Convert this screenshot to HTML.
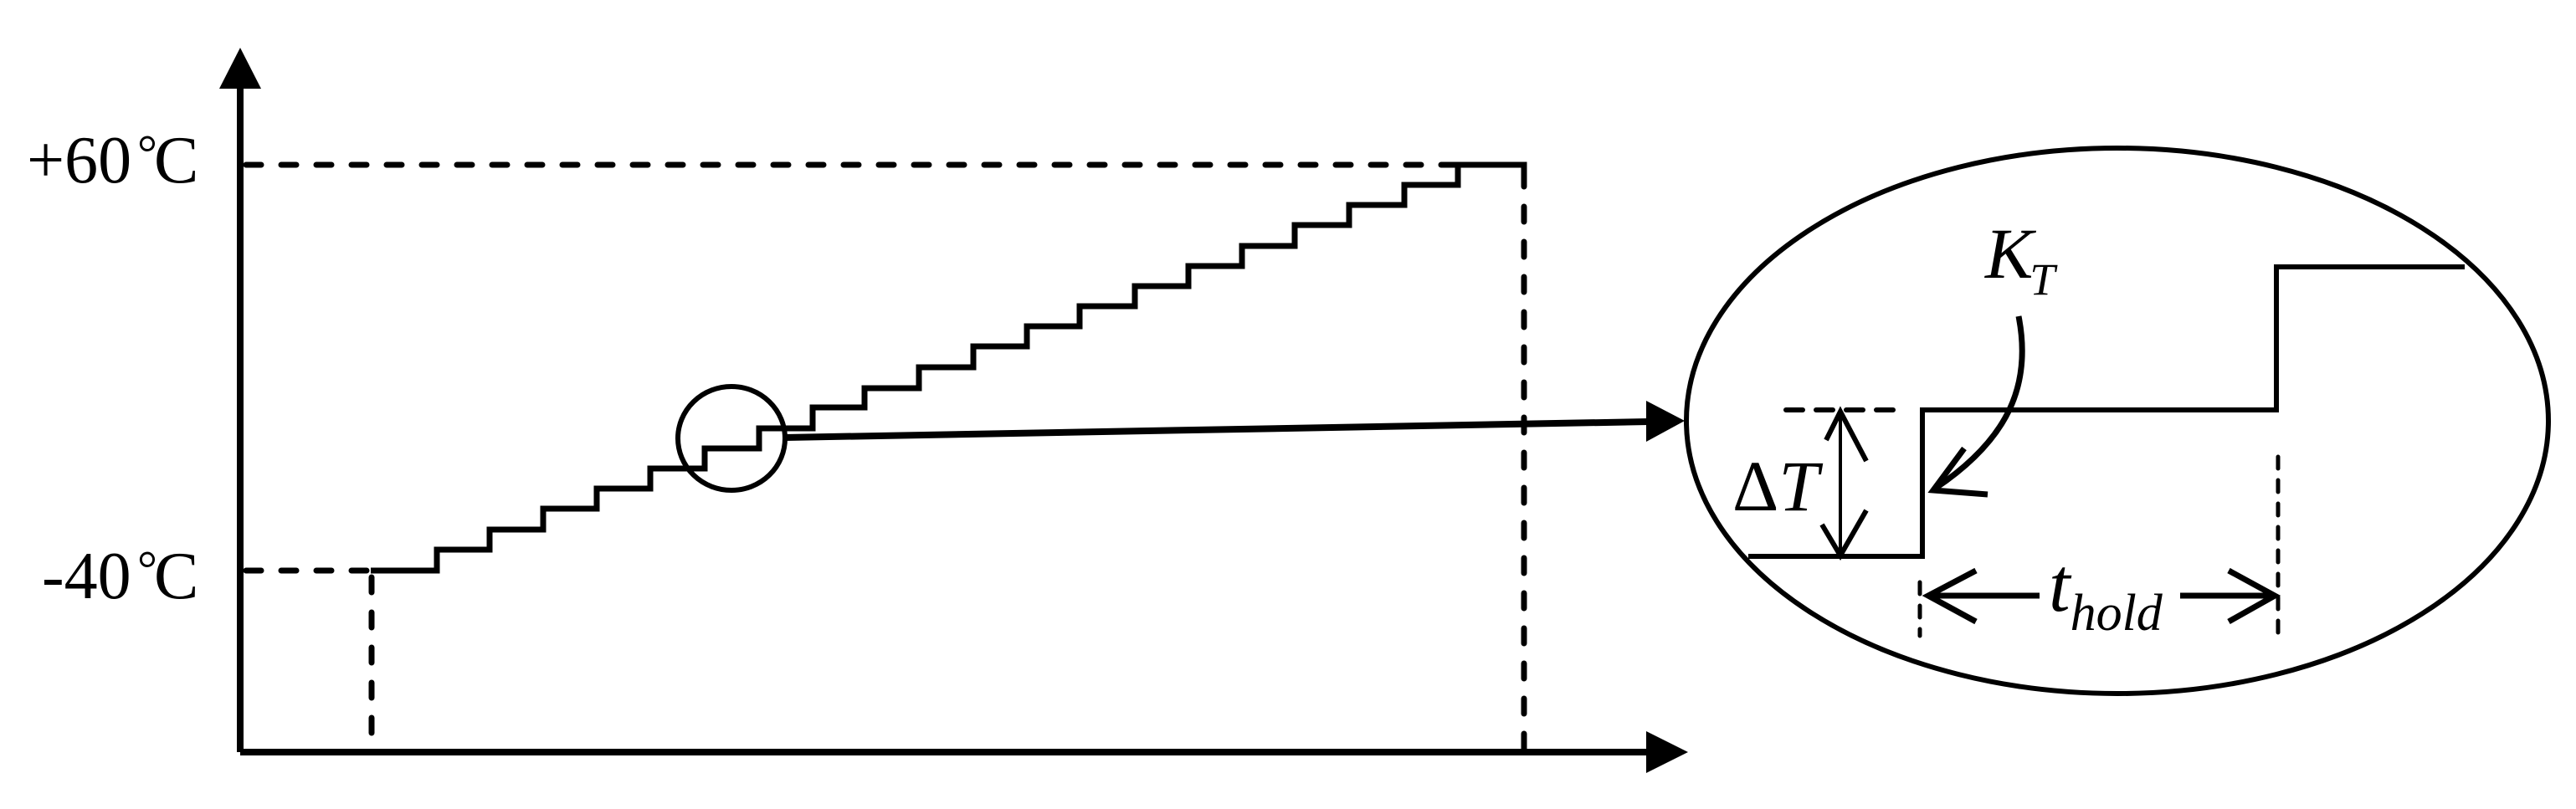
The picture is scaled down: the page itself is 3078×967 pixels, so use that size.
<!DOCTYPE html>
<html><head><meta charset="utf-8"><style>html,body{margin:0;padding:0;background:#fff}svg{display:block}</style></head>
<body>
<svg width="3078" height="967" viewBox="0 0 3078 967" xmlns="http://www.w3.org/2000/svg" font-family="Liberation Serif, serif">
<rect width="3078" height="967" fill="#fff"/>
<g stroke="#000" stroke-width="8" fill="none">
<line x1="287" y1="100" x2="287" y2="899"/>
<line x1="287" y1="899" x2="1975" y2="899"/>
</g>
<polygon points="287,57 262,106 312,106" fill="#000"/>
<polygon points="2017,899 1967,874 1967,924" fill="#000"/>
<g stroke="#000" stroke-width="7" fill="none" stroke-dasharray="18 24" stroke-linecap="round">
<line x1="294" y1="197" x2="1740" y2="197"/>
<line x1="294" y1="682" x2="440" y2="682"/>
<line x1="444" y1="690" x2="444" y2="899"/>
<line x1="1821" y1="205" x2="1821" y2="899"/>
</g>
<polyline fill="none" stroke="#000" stroke-width="7" points="443,682 522,682 522,657 585,657 585,633 649,633 649,608 713,608 713,584 777,584 777,560 842,560 842,536 907,536 907,512 971,512 971,487 1033,487 1033,464 1098,464 1098,439 1163,439 1163,414 1227,414 1227,390 1290,390 1290,366 1356,366 1356,342 1420,342 1420,318 1484,318 1484,294 1547,294 1547,269 1612,269 1612,245 1678,245 1678,221 1742,221 1742,197 1821,197 1821,205"/>
<ellipse cx="874" cy="524" rx="64" ry="62" fill="none" stroke="#000" stroke-width="6"/>
<line x1="938" y1="523" x2="1970" y2="504" stroke="#000" stroke-width="8"/>
<polygon points="2013,503 1967,479 1967,528" fill="#000"/>
<text x="32" y="218" font-size="80">+60</text>
<text x="164" y="203" font-size="60">°</text>
<text x="184" y="218" font-size="80">C</text>
<text x="50" y="715" font-size="80">-40</text>
<text x="164" y="700" font-size="60">°</text>
<text x="184" y="715" font-size="80">C</text>
<ellipse cx="2530" cy="503" rx="515" ry="326" fill="none" stroke="#000" stroke-width="6"/>
<polyline fill="none" stroke="#000" stroke-width="6" points="2089,665 2297,665 2297,490 2720,490 2720,319 2945,319"/>
<line x1="2134" y1="490" x2="2275" y2="490" stroke="#000" stroke-width="6" stroke-dasharray="20 16" stroke-linecap="round"/>
<line x1="2199" y1="494" x2="2199" y2="662" stroke="#000" stroke-width="4"/>
<polyline fill="none" stroke="#000" stroke-width="6" points="2182,526 2199,492 2230,551"/>
<polyline fill="none" stroke="#000" stroke-width="6" points="2177,627 2199,664 2230,610"/>
<text x="2070" y="610" font-size="86">Δ<tspan font-style="italic">T</tspan></text>
<text x="2372" y="332" font-size="86" font-style="italic">K<tspan font-size="54" dy="20" dx="-4">T</tspan></text>
<path d="M2412,378 C2428,460 2400,525 2312,584" fill="none" stroke="#000" stroke-width="7"/>
<polyline fill="none" stroke="#000" stroke-width="7" points="2347,536 2310,586 2375,591"/>
<g stroke="#000" stroke-width="5" stroke-dasharray="14 14" stroke-linecap="round">
<line x1="2294" y1="696" x2="2294" y2="760"/>
<line x1="2722" y1="546" x2="2722" y2="762"/>
</g>
<g stroke="#000" stroke-width="7" fill="none">
<line x1="2304" y1="712" x2="2437" y2="712"/>
<polyline points="2361,682 2304,712 2361,743"/>
<line x1="2605" y1="712" x2="2716" y2="712"/>
<polyline points="2663,682 2718,712 2663,743"/>
</g>
<text x="2448" y="730" font-size="92" font-style="italic">t<tspan font-size="62" dy="23">hold</tspan></text>
</svg>
</body></html>
